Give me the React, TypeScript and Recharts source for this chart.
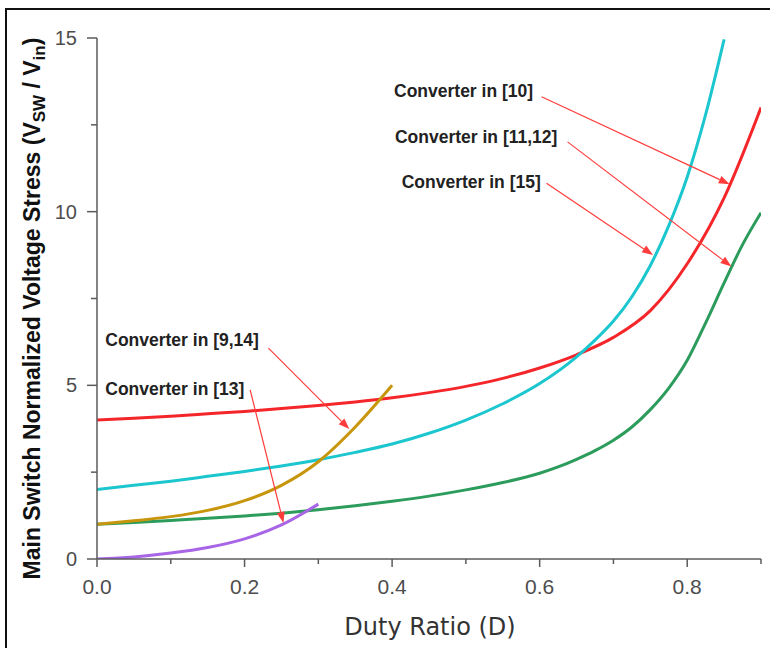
import { LineChart, Line, XAxis, YAxis, ReferenceLine, ReferenceDot } from "recharts";

// duty ratio samples and normalized switch stress per converter
const dutyRef10 = [0, 0.05, 0.1, 0.15, 0.2, 0.25, 0.3, 0.35, 0.4, 0.45, 0.5, 0.55, 0.6, 0.65, 0.7, 0.75, 0.8, 0.85, 0.9];
const stressRef10 = [4.0, 4.05, 4.11, 4.18, 4.25, 4.33, 4.42, 4.52, 4.64, 4.79, 4.97, 5.2, 5.5, 5.88, 6.38, 7.15, 8.5, 10.4, 13.0];

const dutyRef1112 = [0, 0.05, 0.1, 0.15, 0.2, 0.25, 0.3, 0.35, 0.4, 0.45, 0.5, 0.55, 0.6, 0.625, 0.65, 0.675, 0.7, 0.725, 0.75, 0.775, 0.8, 0.825, 0.85, 0.875, 0.9];
const stressRef1112 = [1.0, 1.05, 1.11, 1.17, 1.24, 1.32, 1.42, 1.53, 1.66, 1.81, 1.99, 2.2, 2.47, 2.65, 2.87, 3.12, 3.42, 3.8, 4.3, 4.92, 5.72, 6.8, 7.95, 9.05, 9.97];

const dutyRef15 = [0, 0.05, 0.1, 0.15, 0.2, 0.25, 0.3, 0.35, 0.4, 0.45, 0.5, 0.55, 0.6, 0.65, 0.675, 0.7, 0.725, 0.75, 0.775, 0.8, 0.825, 0.85];
const stressRef15 = [2.0, 2.12, 2.24, 2.38, 2.52, 2.68, 2.86, 3.07, 3.31, 3.62, 4.0, 4.47, 5.05, 5.82, 6.3, 6.85, 7.55, 8.45, 9.6, 11.0, 12.8, 14.96];

const dutyRef914 = [0, 0.05, 0.1, 0.15, 0.2, 0.25, 0.3, 0.35, 0.4];
const stressRef914 = [1.0, 1.1, 1.22, 1.4, 1.68, 2.12, 2.8, 3.8, 5.0];

const dutyRef13 = [0, 0.05, 0.1, 0.15, 0.2, 0.25, 0.3];
const stressRef13 = [0, 0.06, 0.17, 0.33, 0.58, 0.98, 1.58];

const xTicks = [0, 0.1, 0.2, 0.3, 0.4, 0.5, 0.6, 0.7, 0.8, 0.9];
const yTicks = [0, 2.5, 5, 7.5, 10, 12.5, 15];

// callouts: label anchor, arrow tail and arrow tip in (D, stress) units
const callouts = [
  { text: "Converter in [10]", at: [0.4026, 13.3], from: [0.6026, 13.31], to: [0.8576, 10.79] },
  { text: "Converter in [11,12]", at: [0.4039, 11.97], from: [0.6378, 12.01], to: [0.8599, 8.42] },
  { text: "Converter in [15]", at: [0.413, 10.67], from: [0.6093, 10.82], to: [0.7537, 8.75] },
  { text: "Converter in [9,14]", at: [0.0112, 6.12], from: [0.2324, 6.07], to: [0.342, 3.74] },
  { text: "Converter in [13]", at: [0.0112, 4.73], from: [0.2076, 4.87], to: [0.2527, 1.04] },
];

const toPoints = (duty: number[], stress: number[]) => duty.map((d, i) => ({ d, v: stress[i] }));

const series = [
  { key: "ref1112", data: toPoints(dutyRef1112, stressRef1112), color: "#2c9c5c" },
  { key: "ref10", data: toPoints(dutyRef10, stressRef10), color: "#f5262a" },
  { key: "ref15", data: toPoints(dutyRef15, stressRef15), color: "#1cc6cf" },
  { key: "ref914", data: toPoints(dutyRef914, stressRef914), color: "#c8960c" },
  { key: "ref13", data: toPoints(dutyRef13, stressRef13), color: "#a865e6" },
];

const AXIS = "#5b5b5b";
const TICK_TEXT = "#4d4d4d";
const ARROW = "#ff3c3c";
const SANS = "'Liberation Sans', Arial, sans-serif";

function XTick({ x, y, payload }: any) {
  const v = payload.value as number;
  const major = Math.round(v * 10) % 2 === 0;
  return (
    <g>
      <line x1={x} x2={x} y1={y} y2={y + (major ? 8 : 5)} stroke={AXIS} strokeWidth={1.5} />
      {major && (
        <text x={x} y={y + 35} textAnchor="middle" fontSize={21} fill={TICK_TEXT} fontFamily={SANS}>
          {v.toFixed(1)}
        </text>
      )}
    </g>
  );
}

function YTick({ x, y, payload }: any) {
  const v = payload.value as number;
  const major = v % 5 === 0;
  return (
    <g>
      <line x1={x - (major ? 10 : 6)} x2={x} y1={y} y2={y} stroke={AXIS} strokeWidth={1.5} />
      {major && (
        <text x={x - 20} y={y + 7} textAnchor="end" fontSize={20} fill={TICK_TEXT} fontFamily={SANS}>
          {v}
        </text>
      )}
    </g>
  );
}

function YTitle({ viewBox }: any) {
  const bx = viewBox.x + 31.5;
  const cy = viewBox.y + viewBox.height / 2 + 10;
  return (
    <text
      x={bx}
      y={cy}
      transform={`rotate(-90 ${bx} ${cy})`}
      textAnchor="middle"
      fontSize={23}
      fontWeight="bold"
      fill="#111"
      fontFamily={SANS}
    >
      Main Switch Normalized Voltage Stress (V
      <tspan dy={5} fontSize={17}>SW</tspan>
      <tspan dy={-5}> / V</tspan>
      <tspan dy={5} fontSize={17}>in</tspan>
      <tspan dy={-5}>)</tspan>
    </text>
  );
}

function XTitle({ viewBox }: any) {
  return (
    <text
      x={viewBox.x + viewBox.width / 2 + 1}
      y={viewBox.y + 76}
      textAnchor="middle"
      fontSize={24}
      fill="#333"
      fontFamily="'DejaVu Sans', sans-serif"
    >
      Duty Ratio (D)
    </text>
  );
}

function Arrow({ x1, y1, x2, y2 }: any) {
  const dx = x2 - x1;
  const dy = y2 - y1;
  const len = Math.hypot(dx, dy) || 1;
  const ux = dx / len;
  const uy = dy / len;
  const head = 11;
  const half = 4;
  const bx = x2 - ux * head;
  const by = y2 - uy * head;
  return (
    <g>
      <line x1={x1} y1={y1} x2={bx} y2={by} stroke={ARROW} strokeWidth={1.2} />
      <polygon
        points={`${x2},${y2} ${bx - uy * half},${by + ux * half} ${bx + uy * half},${by - ux * half}`}
        fill={ARROW}
      />
    </g>
  );
}

const calloutText = (text: string) => (p: any) => (
  <text x={p.cx} y={p.cy} fontSize={17.5} fontWeight="bold" fill="#222" fontFamily={SANS}>
    {text}
  </text>
);

export default function App() {
  return (
    <div style={{ position: "relative", width: 770, height: 648, overflow: "hidden", background: "#fff" }}>
      <style>{"html, body { margin: 0; overflow: hidden; background: #fff; }"}</style>
      {/* page frame: only its left and top edges fall inside the figure */}
      <svg width={770} height={648} style={{ position: "absolute", left: 0, top: 0 }}>
        <line x1={6} y1={8} x2={6} y2={648} stroke="#111" strokeWidth={2} />
        <line x1={5} y1={9} x2={770} y2={9} stroke="#111" strokeWidth={2} />
      </svg>
      <div style={{ position: "absolute", left: 8, top: 8 }}>
        <LineChart width={762} height={640} margin={{ top: 30, right: 9, bottom: 29, left: 0 }}>
          <XAxis
            dataKey="d"
            type="number"
            domain={[0, 0.9]}
            ticks={xTicks}
            interval={0}
            allowDataOverflow
            tickLine={false}
            tickSize={0}
            tickMargin={0}
            tick={<XTick />}
            height={60}
            axisLine={{ stroke: AXIS, strokeWidth: 1.5 }}
            label={<XTitle />}
          />
          <YAxis
            type="number"
            domain={[0, 15]}
            ticks={yTicks}
            interval={0}
            allowDataOverflow
            tickLine={false}
            tickSize={0}
            tickMargin={0}
            tick={<YTick />}
            width={89}
            axisLine={{ stroke: AXIS, strokeWidth: 1.5 }}
            label={<YTitle />}
          />
          {series.map((s) => (
            <Line
              key={s.key}
              data={s.data}
              dataKey="v"
              type="monotone"
              stroke={s.color}
              strokeWidth={3}
              dot={false}
              activeDot={false}
              isAnimationActive={false}
            />
          ))}
          {callouts.map((c) => (
            <ReferenceLine
              key={`arrow-${c.text}`}
              segment={[
                { x: c.from[0], y: c.from[1] },
                { x: c.to[0], y: c.to[1] },
              ]}
              ifOverflow="visible"
              shape={Arrow}
            />
          ))}
          {callouts.map((c) => (
            <ReferenceDot
              key={`label-${c.text}`}
              x={c.at[0]}
              y={c.at[1]}
              r={0}
              ifOverflow="visible"
              shape={calloutText(c.text)}
            />
          ))}
        </LineChart>
      </div>
      <div style={{ position: "absolute", left: 765, top: 11, width: 5, height: 637, background: "#fff", zIndex: 3 }} />
    </div>
  );
}
